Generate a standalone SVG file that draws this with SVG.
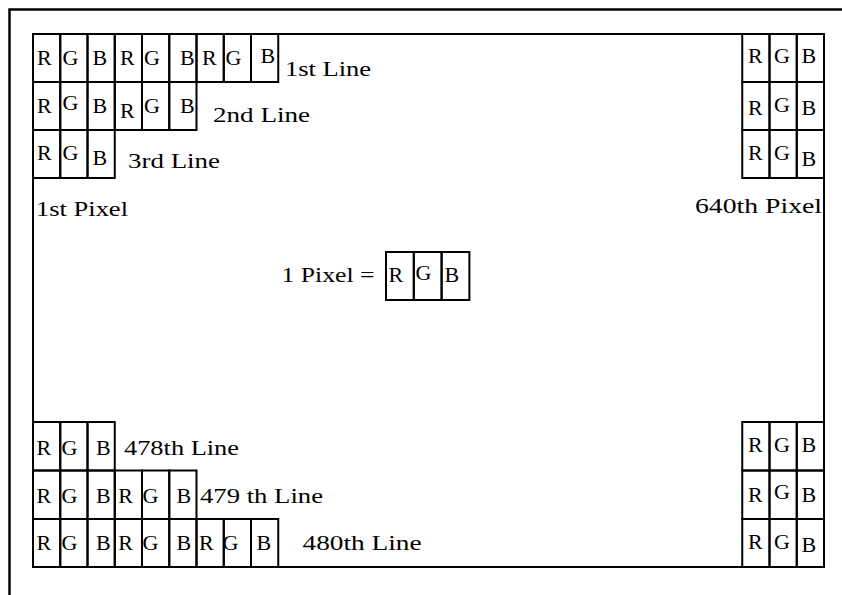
<svg xmlns="http://www.w3.org/2000/svg" width="842" height="595" viewBox="0 0 842 595">
<style>
.frame{fill:none;stroke:#000;stroke-width:2.5}
.inner{fill:none;stroke:#000;stroke-width:2}
.c{fill:none;stroke:#000;stroke-width:2}
</style>
<rect width="842" height="595" fill="#fff"/>
<g id="frame">
<path class="frame" d="M9.5,595 V9.5 H842"/>
<rect class="inner" x="33" y="34" width="791" height="533"/>
</g>
<g id="line1">
<rect class="c" x="33" y="34" width="27.25" height="48"/><rect class="c" x="60.25" y="34" width="27.25" height="48"/><rect class="c" x="87.5" y="34" width="27.25" height="48"/><rect class="c" x="114.75" y="34" width="27.25" height="48"/><rect class="c" x="142" y="34" width="27.25" height="48"/><rect class="c" x="169.25" y="34" width="27.25" height="48"/><rect class="c" x="196.5" y="34" width="27.25" height="48"/><rect class="c" x="223.75" y="34" width="27.25" height="48"/><rect class="c" x="251" y="34" width="27.25" height="48"/>
<text font-family="Liberation Serif" font-size="22" x="37" y="65">R</text><text font-family="Liberation Serif" font-size="22" x="62.5" y="65">G</text><text font-family="Liberation Serif" font-size="22" x="92.5" y="65">B</text><text font-family="Liberation Serif" font-size="22" x="120" y="65">R</text><text font-family="Liberation Serif" font-size="22" x="144" y="65">G</text><text font-family="Liberation Serif" font-size="22" x="180" y="65">B</text><text font-family="Liberation Serif" font-size="22" x="202" y="65">R</text><text font-family="Liberation Serif" font-size="22" x="225.5" y="65">G</text><text font-family="Liberation Serif" font-size="22" x="260.5" y="63">B</text>
<text font-family="Liberation Serif" font-size="22" x="285" y="76" textLength="86" lengthAdjust="spacingAndGlyphs">1st Line</text>
</g>
<g id="line2">
<rect class="c" x="33" y="82" width="27.25" height="48"/><rect class="c" x="60.25" y="82" width="27.25" height="48"/><rect class="c" x="87.5" y="82" width="27.25" height="48"/><rect class="c" x="114.75" y="82" width="27.25" height="48"/><rect class="c" x="142" y="82" width="27.25" height="48"/><rect class="c" x="169.25" y="82" width="27.25" height="48"/>
<text font-family="Liberation Serif" font-size="22" x="37" y="113">R</text><text font-family="Liberation Serif" font-size="22" x="62.5" y="110">G</text><text font-family="Liberation Serif" font-size="22" x="92.5" y="113">B</text><text font-family="Liberation Serif" font-size="22" x="120" y="118">R</text><text font-family="Liberation Serif" font-size="22" x="144" y="113">G</text><text font-family="Liberation Serif" font-size="22" x="180" y="113">B</text>
<text font-family="Liberation Serif" font-size="22" x="213" y="122" textLength="97" lengthAdjust="spacingAndGlyphs">2nd Line</text>
</g>
<g id="line3">
<rect class="c" x="33" y="130" width="27.25" height="48"/><rect class="c" x="60.25" y="130" width="27.25" height="48"/><rect class="c" x="87.5" y="130" width="27.25" height="48"/>
<text font-family="Liberation Serif" font-size="22" x="37" y="160">R</text><text font-family="Liberation Serif" font-size="22" x="62.5" y="160">G</text><text font-family="Liberation Serif" font-size="22" x="92.5" y="165">B</text>
<text font-family="Liberation Serif" font-size="22" x="128" y="168" textLength="92" lengthAdjust="spacingAndGlyphs">3rd Line</text>
</g>
<g id="first-pixel">
<text font-family="Liberation Serif" font-size="22" x="36" y="216" textLength="92" lengthAdjust="spacingAndGlyphs">1st Pixel</text>
</g>
<g id="last-pixel">
<rect class="c" x="742.25" y="34" width="27.25" height="48"/><rect class="c" x="769.5" y="34" width="27.25" height="48"/><rect class="c" x="796.75" y="34" width="27.25" height="48"/>
<rect class="c" x="742.25" y="82" width="27.25" height="48"/><rect class="c" x="769.5" y="82" width="27.25" height="48"/><rect class="c" x="796.75" y="82" width="27.25" height="48"/>
<rect class="c" x="742.25" y="130" width="27.25" height="48"/><rect class="c" x="769.5" y="130" width="27.25" height="48"/><rect class="c" x="796.75" y="130" width="27.25" height="48"/>
<text font-family="Liberation Serif" font-size="22" x="748" y="63">R</text><text font-family="Liberation Serif" font-size="22" x="774" y="63">G</text><text font-family="Liberation Serif" font-size="22" x="801.5" y="63">B</text>
<text font-family="Liberation Serif" font-size="22" x="748" y="115">R</text><text font-family="Liberation Serif" font-size="22" x="774" y="111.5">G</text><text font-family="Liberation Serif" font-size="22" x="801.5" y="115">B</text>
<text font-family="Liberation Serif" font-size="22" x="748" y="160">R</text><text font-family="Liberation Serif" font-size="22" x="774" y="160">G</text><text font-family="Liberation Serif" font-size="22" x="801.5" y="165.5">B</text>
<text font-family="Liberation Serif" font-size="22" x="695" y="213" textLength="127" lengthAdjust="spacingAndGlyphs">640th Pixel</text>
</g>
<g id="pixel-legend">
<text font-family="Liberation Serif" font-size="22" x="281.5" y="282" textLength="93" lengthAdjust="spacingAndGlyphs">1 Pixel =</text>
<rect class="c" x="386" y="252" width="27.8" height="48"/><rect class="c" x="413.8" y="252" width="27.8" height="48"/><rect class="c" x="441.6" y="252" width="27.8" height="48"/>
<text font-family="Liberation Serif" font-size="22" x="388.5" y="282">R</text><text font-family="Liberation Serif" font-size="22" x="415.5" y="280">G</text><text font-family="Liberation Serif" font-size="22" x="444.5" y="282">B</text>
</g>
<g id="line478">
<rect class="c" x="33" y="422" width="27.25" height="48.5"/><rect class="c" x="60.25" y="422" width="27.25" height="48.5"/><rect class="c" x="87.5" y="422" width="27.25" height="48.5"/>
<text font-family="Liberation Serif" font-size="22" x="36.5" y="455">R</text><text font-family="Liberation Serif" font-size="22" x="61.5" y="455">G</text><text font-family="Liberation Serif" font-size="22" x="96" y="455">B</text>
<text font-family="Liberation Serif" font-size="22" x="124" y="455" textLength="115" lengthAdjust="spacingAndGlyphs">478th Line</text>
</g>
<g id="line479">
<rect class="c" x="33" y="470.5" width="27.25" height="48.5"/><rect class="c" x="60.25" y="470.5" width="27.25" height="48.5"/><rect class="c" x="87.5" y="470.5" width="27.25" height="48.5"/><rect class="c" x="114.75" y="470.5" width="27.25" height="48.5"/><rect class="c" x="142" y="470.5" width="27.25" height="48.5"/><rect class="c" x="169.25" y="470.5" width="27.25" height="48.5"/>
<text font-family="Liberation Serif" font-size="22" x="36.5" y="503">R</text><text font-family="Liberation Serif" font-size="22" x="61.5" y="503">G</text><text font-family="Liberation Serif" font-size="22" x="96" y="503">B</text><text font-family="Liberation Serif" font-size="22" x="118.3" y="503">R</text><text font-family="Liberation Serif" font-size="22" x="142.5" y="503">G</text><text font-family="Liberation Serif" font-size="22" x="176.5" y="503">B</text>
<text font-family="Liberation Serif" font-size="22" x="200" y="503" textLength="123" lengthAdjust="spacingAndGlyphs">479 th Line</text>
</g>
<g id="line480">
<rect class="c" x="33" y="519" width="27.25" height="48"/><rect class="c" x="60.25" y="519" width="27.25" height="48"/><rect class="c" x="87.5" y="519" width="27.25" height="48"/><rect class="c" x="114.75" y="519" width="27.25" height="48"/><rect class="c" x="142" y="519" width="27.25" height="48"/><rect class="c" x="169.25" y="519" width="27.25" height="48"/><rect class="c" x="196.5" y="519" width="27.25" height="48"/><rect class="c" x="223.75" y="519" width="27.25" height="48"/><rect class="c" x="251" y="519" width="27.25" height="48"/>
<text font-family="Liberation Serif" font-size="22" x="36.5" y="550">R</text><text font-family="Liberation Serif" font-size="22" x="61.5" y="550">G</text><text font-family="Liberation Serif" font-size="22" x="96" y="550">B</text><text font-family="Liberation Serif" font-size="22" x="118.3" y="550">R</text><text font-family="Liberation Serif" font-size="22" x="142.5" y="550">G</text><text font-family="Liberation Serif" font-size="22" x="176.5" y="550">B</text><text font-family="Liberation Serif" font-size="22" x="199" y="550">R</text><text font-family="Liberation Serif" font-size="22" x="222.5" y="550">G</text><text font-family="Liberation Serif" font-size="22" x="256.5" y="550">B</text>
<text font-family="Liberation Serif" font-size="22" x="302.5" y="550" textLength="119" lengthAdjust="spacingAndGlyphs">480th Line</text>
</g>
<g id="bottom-right">
<rect class="c" x="742.25" y="422" width="27.25" height="48.5"/><rect class="c" x="769.5" y="422" width="27.25" height="48.5"/><rect class="c" x="796.75" y="422" width="27.25" height="48.5"/>
<rect class="c" x="742.25" y="470.5" width="27.25" height="48.5"/><rect class="c" x="769.5" y="470.5" width="27.25" height="48.5"/><rect class="c" x="796.75" y="470.5" width="27.25" height="48.5"/>
<rect class="c" x="742.25" y="519" width="27.25" height="48"/><rect class="c" x="769.5" y="519" width="27.25" height="48"/><rect class="c" x="796.75" y="519" width="27.25" height="48"/>
<text font-family="Liberation Serif" font-size="22" x="748" y="451.5">R</text><text font-family="Liberation Serif" font-size="22" x="774" y="451.5">G</text><text font-family="Liberation Serif" font-size="22" x="801.5" y="451.5">B</text>
<text font-family="Liberation Serif" font-size="22" x="748" y="501.5">R</text><text font-family="Liberation Serif" font-size="22" x="774" y="498.5">G</text><text font-family="Liberation Serif" font-size="22" x="801.5" y="501.5">B</text>
<text font-family="Liberation Serif" font-size="22" x="748" y="548.5">R</text><text font-family="Liberation Serif" font-size="22" x="774" y="548.5">G</text><text font-family="Liberation Serif" font-size="22" x="801.5" y="551.5">B</text>
</g>
<g id="connectors"></g>
</svg>
